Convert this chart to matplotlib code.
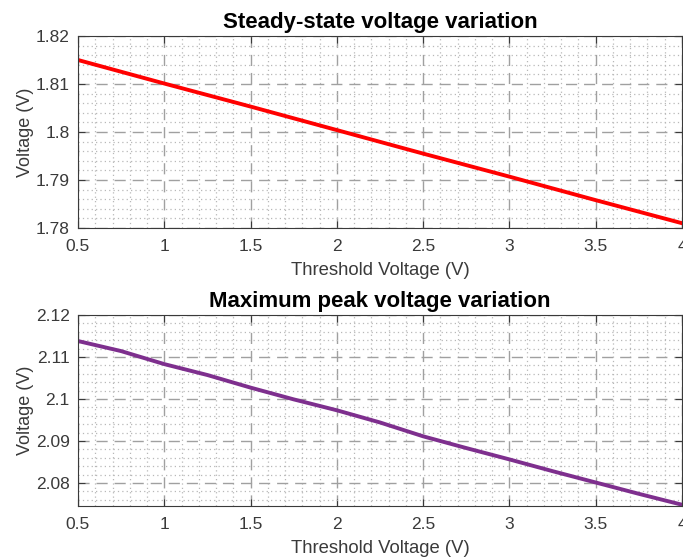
import matplotlib
matplotlib.use("Agg")
import matplotlib.pyplot as plt
from matplotlib.ticker import MultipleLocator

plt.rcParams["font.family"] = ["Liberation Sans", "DejaVu Sans"]

# threshold voltage sweep (V)
vth_steady = [0.5, 1.0, 1.5, 2.0, 2.5, 3.0, 3.5, 4.0]
v_steady = [1.8150, 1.8101, 1.8053, 1.8004, 1.7955, 1.7907, 1.7858, 1.7810]

vth_peak = [0.5, 0.75, 1.0, 1.25, 1.5, 1.75, 2.0, 2.25, 2.5, 2.75, 3.0, 3.25, 3.5, 3.75, 4.0]
v_peak = [2.1138, 2.1114, 2.1083, 2.1057, 2.1027, 2.0999, 2.0973, 2.0944,
          2.0911, 2.0883, 2.0856, 2.0828, 2.0801, 2.0774, 2.0748]

TEXT = "#3a3a3a"


def style_axes(ax, ymin, ymax):
    ax.set_xlim(0.5, 4)
    ax.set_ylim(ymin, ymax)
    ax.xaxis.set_major_locator(MultipleLocator(0.5))
    ax.xaxis.set_minor_locator(MultipleLocator(0.1))
    ax.yaxis.set_major_locator(MultipleLocator(0.01))
    ax.yaxis.set_minor_locator(MultipleLocator(0.002))
    ax.grid(which="major", color="#a0a0a0", linestyle=(0, (8, 5)), linewidth=1.0)
    ax.grid(which="minor", color="#b8b8b8", linestyle=(0, (1, 2.5)), linewidth=0.9)
    ax.set_axisbelow(True)
    ax.tick_params(which="both", direction="in", colors=TEXT, labelsize=12.5,
                   top=True, right=True)
    ax.tick_params(which="minor", length=0)
    ax.tick_params(which="major", length=5)
    ax.tick_params(axis="x", pad=8)
    ax.tick_params(axis="y", pad=6)
    for sp in ax.spines.values():
        sp.set_color(TEXT)
        sp.set_linewidth(0.8)
    ax.set_xlabel("Threshold Voltage (V)", fontsize=13.3, color=TEXT, labelpad=6)
    ax.set_ylabel("Voltage (V)", fontsize=13, color=TEXT, labelpad=1)
    ax.xaxis.set_major_formatter(plt.FuncFormatter(lambda v, p: f"{v:g}"))
    ax.yaxis.set_major_formatter(plt.FuncFormatter(lambda v, p: f"{round(v, 3):g}"))


fig = plt.figure(figsize=(6.83, 5.59), dpi=100)
ax1 = fig.add_axes([78 / 683, 1 - 228 / 559, 604 / 683, 192 / 559])
ax2 = fig.add_axes([78 / 683, 1 - 506 / 559, 604 / 683, 191 / 559])

ax1.plot(vth_steady, v_steady, color="#ff0000", linewidth=2.8)
style_axes(ax1, 1.78, 1.82)
ax1.set_title("Steady-state voltage variation", fontsize=16, fontweight="bold", pad=6)

ax2.plot(vth_peak, v_peak, color="#7e2f8e", linewidth=2.8)
style_axes(ax2, 2.0745, 2.12)
ax2.set_title("Maximum peak voltage variation", fontsize=16, fontweight="bold", pad=6)

fig.savefig("out.png", dpi=100)
